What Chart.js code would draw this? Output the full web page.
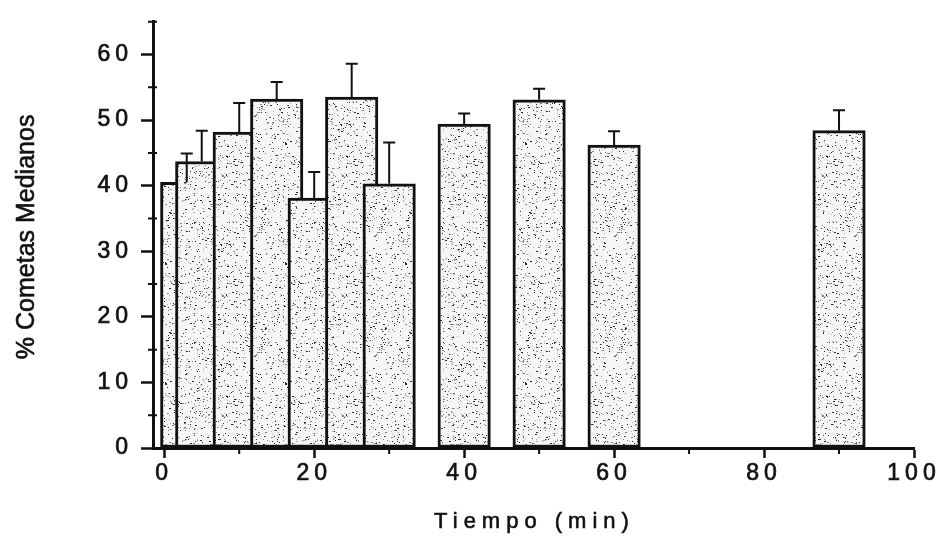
<!DOCTYPE html>
<html>
<head>
<meta charset="utf-8">
<title>% Cometas Medianos</title>
<script src="https://cdn.jsdelivr.net/npm/chart.js@4.4.1/dist/chart.umd.min.js"></script>
<style>
  html, body { margin: 0; padding: 0; background: #fff; }
  canvas { display: block; }
</style>
</head>
<body>
<canvas id="chart" width="943" height="544"></canvas>
<script>
// tiempos de muestreo (min), % de cometas medianos y su desviación
const tiempos = [3, 5, 10, 15, 20, 25, 30, 40, 50, 60, 90];
const medias = [40.5, 43.7, 48.2, 53.2, 38.1, 53.5, 40.3, 49.4, 53.1, 46.2, 48.4];
const errores = [4.4, 4.7, 4.4, 2.6, 4.0, 5.1, 6.3, 1.6, 1.7, 2.1, 3.1];

const xTicks = [0, 20, 40, 60, 80, 100];
const xMinor = [10, 30, 50, 70, 90];
const yTicks = [0, 10, 20, 30, 40, 50, 60];
const yMinor = [5, 15, 25, 35, 45, 55, 65];

const anchoBarra = 7; // ancho de cada barra, en minutos
const tinta = "#111";
const fuente = "'Liberation Sans', Arial, sans-serif";

// relleno punteado de las barras (generador fijo, siempre el mismo dibujo)
function punteado() {
    const c = document.createElement("canvas");
    c.width = 120;
    c.height = 120;
    const g = c.getContext("2d");
    g.fillStyle = "#f6f6f6";
    g.fillRect(0, 0, 120, 120);
    let s = 20240;
    const next = () => (s = (s * 16807) % 2147483647) / 2147483647;
    for (let i = 0; i < 1100; i++) {
        const x = Math.floor(next() * 120);
        const y = Math.floor(next() * 120);
        const t = next();
        g.fillStyle = t < 0.35 ? "#2a2a2a" : t < 0.7 ? "#808080" : "#b0b0b0";
        g.fillRect(x, y, next() < 0.25 ? 2 : 1, 1);
    }
    return g.createPattern(c, "repeat");
}

const detalles = {
    id: "detalles",
    beforeDraw(chart) {
        chart.ctx.letterSpacing = "5px";
    },
    afterDatasetsDraw(chart) {
        // barras de error, sólo hacia arriba
        const { ctx, scales: { x, y } } = chart;
        ctx.save();
        ctx.strokeStyle = tinta;
        ctx.lineWidth = 2;
        ctx.beginPath();
        tiempos.forEach((t, i) => {
            const px = x.getPixelForValue(t);
            const y0 = y.getPixelForValue(medias[i]);
            const y1 = y.getPixelForValue(medias[i] + errores[i]);
            ctx.moveTo(px, y0);
            ctx.lineTo(px, y1);
            ctx.moveTo(px - 6, y1);
            ctx.lineTo(px + 6, y1);
        });
        ctx.stroke();
        ctx.restore();
    },
    afterDraw(chart) {
        const { ctx, chartArea, scales: { x, y } } = chart;
        ctx.save();

        // marcas secundarias
        ctx.strokeStyle = tinta;
        ctx.lineWidth = 2;
        ctx.beginPath();
        yMinor.forEach(v => {
            const py = y.getPixelForValue(v);
            ctx.moveTo(chartArea.left - 5, py);
            ctx.lineTo(chartArea.left + 4, py);
        });
        xMinor.forEach(v => {
            const px = x.getPixelForValue(v);
            ctx.moveTo(px, chartArea.bottom);
            ctx.lineTo(px, chartArea.bottom + 6);
        });
        ctx.stroke();

        // títulos de los ejes
        ctx.fillStyle = tinta;
        ctx.lineWidth = 0.6;
        ctx.textAlign = "center";
        ctx.textBaseline = "alphabetic";
        ctx.font = "22px " + fuente;
        ctx.letterSpacing = "6px";
        const tx = (chartArea.left + chartArea.right) / 2 + 1;
        ctx.fillText("Tiempo (min)", tx, 528);
        ctx.strokeText("Tiempo (min)", tx, 528);

        ctx.translate(34, (chartArea.top + chartArea.bottom) / 2 + 2);
        ctx.rotate(-Math.PI / 2);
        ctx.font = "25px " + fuente;
        ctx.letterSpacing = "0px";
        ctx.fillText("% Cometas Medianos", 0, 0);
        ctx.strokeText("% Cometas Medianos", 0, 0);
        ctx.restore();
    }
};

const marcas = { font: { family: fuente, size: 23 }, color: tinta, textStrokeColor: tinta, textStrokeWidth: 0.7 };

const chart = new Chart(document.getElementById("chart").getContext("2d"), {
    type: "bar",
    data: {
        datasets: [{
            data: tiempos.map((t, i) => ({ x: t, y: medias[i] })),
            backgroundColor: punteado(),
            borderColor: tinta,
            borderWidth: 3,
            borderSkipped: false
        }]
    },
    options: {
        responsive: false,
        animation: false,
        layout: { padding: { top: 9, right: 29, bottom: 0, left: 0 } },
        plugins: {
            legend: { display: false },
            tooltip: { enabled: false }
        },
        scales: {
            x: {
                type: "linear",
                min: -1.5,
                max: 100,
                offset: false,
                afterBuildTicks: s => { s.ticks = xTicks.map(v => ({ value: v })); },
                afterFit: s => { s.height = 96; },
                grid: { drawOnChartArea: false, offset: false, tickLength: 10, tickWidth: 2.5, tickColor: tinta },
                border: { color: tinta, width: 3 },
                ticks: { ...marcas, padding: 2, autoSkip: false, maxRotation: 0 }
            },
            y: {
                min: 0,
                max: 65,
                afterBuildTicks: s => { s.ticks = yTicks.map(v => ({ value: v })); },
                afterFit: s => { s.width = 153; },
                grid: { drawOnChartArea: false, tickLength: 12, tickWidth: 2.5, tickColor: tinta },
                border: { color: tinta, width: 3 },
                ticks: { ...marcas, padding: 8 }
            }
        }
    },
    plugins: [detalles]
});

// ancho de barra en píxeles a partir de la escala de tiempo
const xs = chart.scales.x;
chart.data.datasets[0].barThickness = xs.getPixelForValue(anchoBarra) - xs.getPixelForValue(0);
chart.update();
</script>
</body>
</html>
